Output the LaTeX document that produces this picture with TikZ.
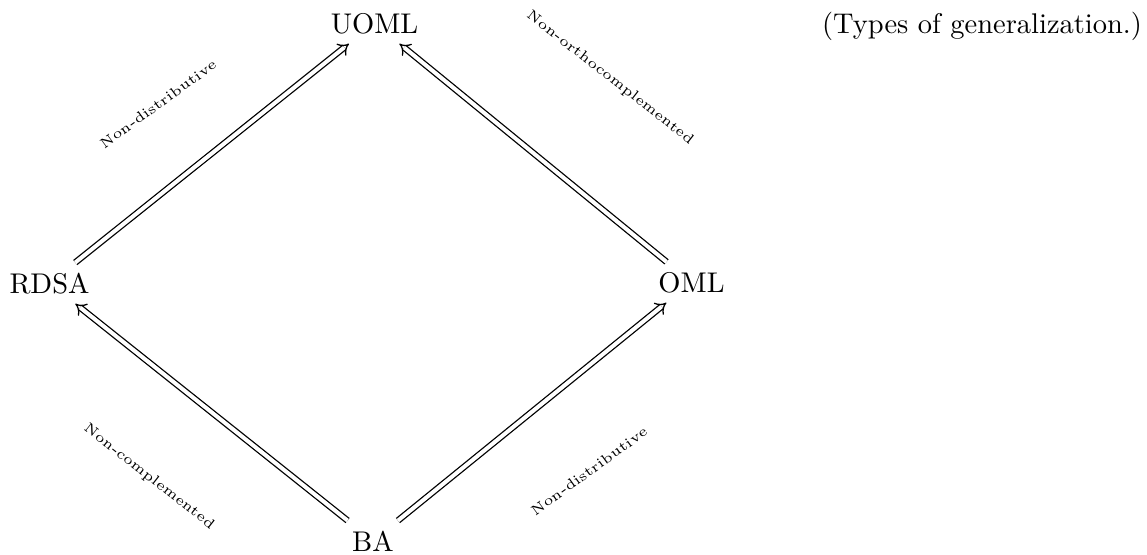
\documentclass[tikz,border=0pt]{standalone}
\usetikzlibrary{arrows.meta}
\begin{document}
\begin{tikzpicture}[x=0.351pt,y=-0.351pt,
  obj/.style={anchor=base,font=\normalsize},
  lbl/.style={font=\tiny,inner sep=0pt},
  imp/.style={double,line width=0.45pt,double distance=1.4pt,-{Implies}}]
\useasboundingbox (0,0) rectangle (1147,554);
\node[obj] (uoml) at (374.5,33) {UOML};
\node[obj] (rdsa) at (49.5,293) {RDSA};
\node[obj] (oml) at (691.5,292) {OML};
\node[obj] (ba) at (373,551) {BA};
\node[obj] (cap) at (982,33) {(Types of generalization.)};
\draw[imp] (rdsa) -- (uoml);
\draw[imp] (oml) -- (uoml);
\draw[imp] (ba) -- (rdsa);
\draw[imp] (ba) -- (oml);
\node[lbl,rotate=36] (l1) at (158,104) {Non-distributive};
\node[lbl,rotate=-38] (l2) at (610,78) {Non-orthocomplemented};
\node[lbl,rotate=-38] (l3) at (149,477) {Non-complemented};
\node[lbl,rotate=36] (l4) at (589,471) {Non-distributive};
\end{tikzpicture}
\end{document}
